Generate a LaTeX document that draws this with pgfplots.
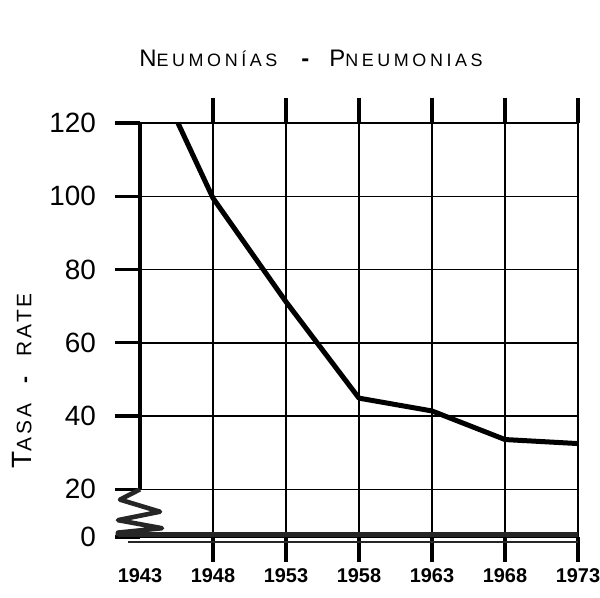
\documentclass[border=0pt]{standalone}
\usepackage{fontspec}
\setmainfont{Liberation Sans}
\usepackage{pgfplots}
\pgfplotsset{compat=1.18}

% pneumonia rate
\pgfplotstableread{
year rate
1945.6 120
1948 99.5
1953 71.2
1958 44.9
1963 41.4
1968 33.6
1973 32.5
}\pneumonia

\begin{document}
\begin{tikzpicture}
\useasboundingbox (0,0) rectangle (300bp,299bp);
\begin{axis}[
    at={(70bp,30.5bp)}, anchor=south west,
    scale only axis, width=219bp, height=207bp,
    xmin=1943, xmax=1973, ymin=7, ymax=120,
    axis line style={draw=none},
    xtick={1948,1953,...,1973},
    xticklabels={1948,1953,1958,1963,1968,1973},
    extra x ticks={1943}, extra x tick labels={1943},
    extra x tick style={grid=none, major tick style={draw=none}},
    ytick={7,20,40,60,80,100,120},
    yticklabels={0,20,40,60,80,100,120},
    xtick pos=both, ytick pos=left,
    tick align=outside, major tick length=12.5bp,
    major tick style={line width=1.6bp, black},
    grid=major, major grid style={line width=0.7bp, black},
    xticklabel style={font=\fontsize{10}{10}\selectfont\bfseries},
    yticklabel style={font=\fontsize{14}{14}\selectfont, xshift=-6bp},
    clip=false,
]
\addplot[line width=2.5bp, black, line join=round] table[x=year, y=rate] {\pneumonia};
% broken axis decoration
\draw[line width=2bp] (axis cs:1943,20) -- (axis cs:1943,120);
\draw[line width=2.3bp, black!85, line join=round]
    (axis cs:1943,20) -- ([xshift=-10bp]axis cs:1943,17.2)
    -- ([xshift=10bp]axis cs:1943,13.9) -- ([xshift=-11bp]axis cs:1943,11.6)
    -- ([xshift=11bp]axis cs:1943,9.4) -- ([xshift=-11bp]axis cs:1943,8.2)
    -- ([xshift=-11bp]axis cs:1943,7.3);
\draw[line width=2.4bp, black!85] ([xshift=-11bp,yshift=1.2bp]axis cs:1943,7) -- ([yshift=1.2bp]axis cs:1973,7);
\draw[line width=1.3bp, black!85] ([xshift=-6bp,yshift=-2.4bp]axis cs:1943,7) -- ([yshift=-2.4bp]axis cs:1973,7);
\end{axis}
\node at (155.5bp,270bp) {\addfontfeatures{LetterSpace=20}{\fontsize{12}{12}\selectfont N}{\fontsize{9}{9}\selectfont EUMONÍAS}\hspace{12bp}{\fontsize{12}{12}\selectfont\bfseries -}\hspace{10bp}{\fontsize{12}{12}\selectfont P}{\fontsize{9}{9}\selectfont NEUMONIAS}};
\node[rotate=90] at (11bp,108.5bp) {\addfontfeatures{LetterSpace=15}{\fontsize{14}{14}\selectfont T}{\fontsize{10.5}{10.5}\selectfont ASA\hspace{10bp}{\bfseries -}\hspace{10bp}RATE}};
\end{tikzpicture}
\end{document}
